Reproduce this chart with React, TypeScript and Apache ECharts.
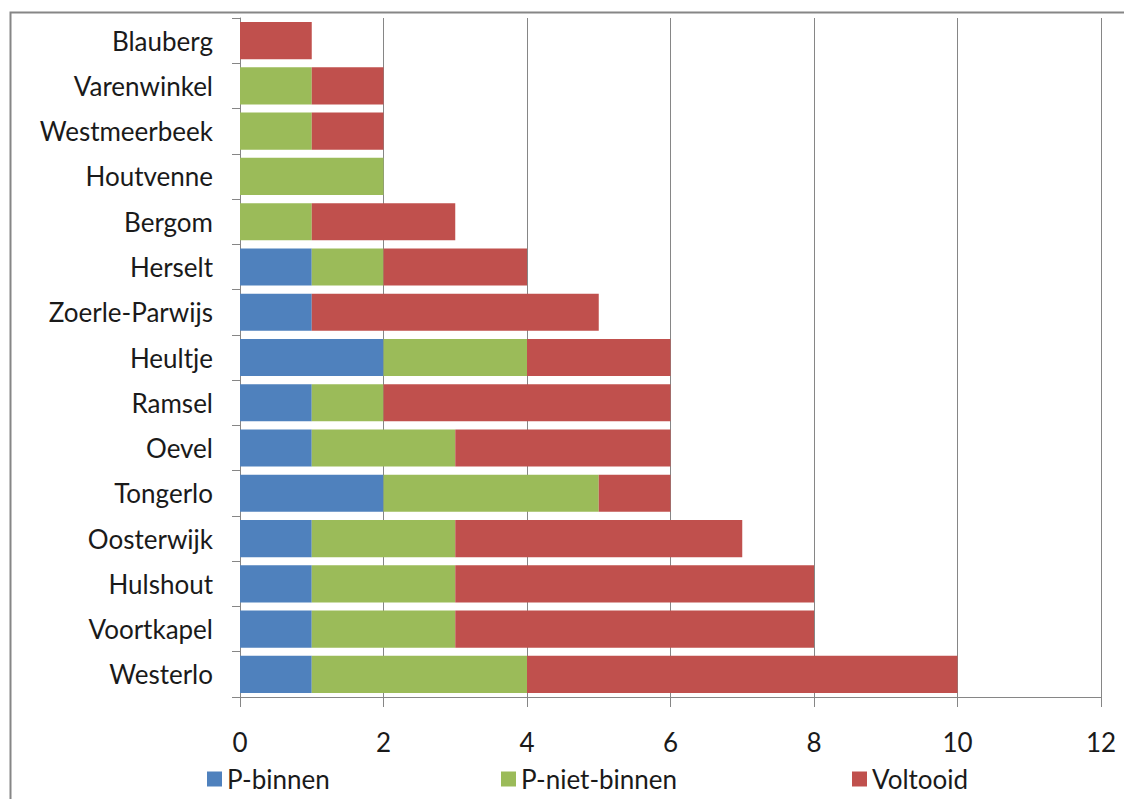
import React, { useEffect, useRef } from "react";
import * as echarts from "echarts";

const categories = [
  "Westerlo", "Voortkapel", "Hulshout", "Oosterwijk", "Tongerlo", "Oevel", "Ramsel",
  "Heultje", "Zoerle-Parwijs", "Herselt", "Bergom", "Houtvenne", "Westmeerbeek",
  "Varenwinkel", "Blauberg",
];
const pBinnen = [1, 1, 1, 1, 2, 1, 1, 2, 1, 1, 0, 0, 0, 0, 0];
const pNietBinnen = [3, 2, 2, 2, 3, 2, 1, 2, 0, 1, 1, 2, 1, 1, 0];
const voltooid = [6, 5, 5, 4, 1, 3, 4, 2, 4, 2, 2, 0, 1, 1, 1];
const seriesNames = ["P-binnen", "P-niet-binnen", "Voltooid"];
const colors = ["#4F81BD", "#9BBB59", "#C0504D"];

const FONT = "Lato";
const FS = 26;

export default function App() {
  const ref = useRef<HTMLDivElement>(null);
  useEffect(() => {
    document.body.style.margin = "0";
    const chart = echarts.init(ref.current!, null, { renderer: "svg" });
    const data = [pBinnen, pNietBinnen, voltooid];
    chart.setOption({
      animation: false,
      backgroundColor: "#ffffff",
      graphic: [
        {
          type: "rect",
          shape: { x: 10.5, y: 12.5, width: 1130, height: 800 },
          style: { fill: "none", stroke: "#868686", lineWidth: 2 },
          silent: true,
        },
      ],
      legend: [
        { left: 202, name: 0 },
        { left: 496, name: 1 },
        { left: 847, name: 2 },
      ].map((l) => ({
        left: l.left,
        top: 761,
        data: [seriesNames[l.name]],
        itemWidth: 15,
        itemHeight: 15,
        icon: "rect",
        itemGap: 8,
        textStyle: { fontFamily: FONT, fontSize: FS, color: "#1a1a1a" },
      })),
      grid: { left: 240, right: 23, top: 18, bottom: 102, containLabel: false },
      xAxis: {
        type: "value",
        min: 0,
        max: 12,
        interval: 2,
        axisLine: { show: true, lineStyle: { color: "#868686", width: 1 } },
        axisTick: { show: true, length: 10, lineStyle: { color: "#868686" } },
        splitLine: { show: true, lineStyle: { color: "#868686", width: 1 } },
        axisLabel: { fontFamily: FONT, fontSize: FS, color: "#1a1a1a", margin: 32 },
      },
      yAxis: {
        type: "category",
        data: categories,
        axisLine: { show: true, lineStyle: { color: "#868686", width: 1 } },
        axisTick: { show: true, length: 8, alignWithLabel: false, lineStyle: { color: "#868686" } },
        axisLabel: { fontFamily: FONT, fontSize: FS, color: "#1a1a1a", margin: 27 },
      },
      series: seriesNames.map((name, i) => ({
        name,
        type: "bar",
        stack: "total",
        data: data[i],
        barCategoryGap: "18%",
        itemStyle: { color: colors[i] },
      })),
    });
    return () => chart.dispose();
  }, []);
  return <div ref={ref} style={{ width: 1124, height: 799 }} />;
}
